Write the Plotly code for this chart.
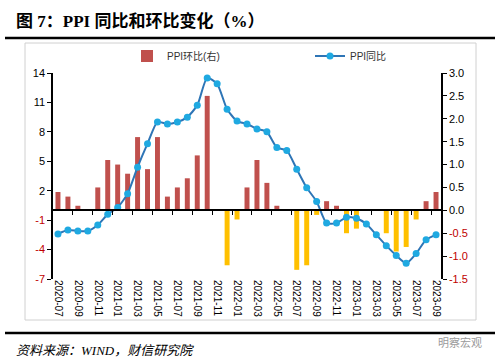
import plotly.graph_objects as go

months = ["2020-07", "2020-08", "2020-09", "2020-10", "2020-11", "2020-12",
          "2021-01", "2021-02", "2021-03", "2021-04", "2021-05", "2021-06",
          "2021-07", "2021-08", "2021-09", "2021-10", "2021-11", "2021-12",
          "2022-01", "2022-02", "2022-03", "2022-04", "2022-05", "2022-06",
          "2022-07", "2022-08", "2022-09", "2022-10", "2022-11", "2022-12",
          "2023-01", "2023-02", "2023-03", "2023-04", "2023-05", "2023-06",
          "2023-07", "2023-08", "2023-09"]

ppi_yoy = [-2.4, -2.0, -2.1, -2.1, -1.5, -0.4,
           0.3, 1.7, 4.4, 6.8, 9.0, 8.8, 9.0, 9.5, 10.7, 13.5, 12.9, 10.3,
           9.1, 8.8, 8.3, 8.0, 6.4, 6.1, 4.2, 2.3, 0.9, -1.3, -1.3, -0.7,
           -0.8, -1.4, -2.5, -3.6, -4.6, -5.4, -4.4, -3.0, -2.5]

ppi_mom = [0.4, 0.3, 0.1, 0.0, 0.5, 1.1,
           1.0, 0.8, 1.6, 0.9, 1.6, 0.3, 0.5, 0.7, 1.2, 2.5, 0.0, -1.2,
           -0.2, 0.5, 1.1, 0.6, 0.1, 0.0, -1.3, -1.2, -0.1, 0.2, 0.1, -0.5,
           -0.4, 0.0, 0.0, -0.5, -0.9, -0.8, -0.2, 0.2, 0.4]

left_ticks = [-7, -4, -1, 2, 5, 8, 11, 14]
right_ticks = [-1.5, -1.0, -0.5, 0.0, 0.5, 1.0, 1.5, 2.0, 2.5, 3.0]

RED_TXT = "#C00000"
W, H = 499, 363
ML, MR, MT, MB = 53, 58, 73, 84
PW, PH = W - ML - MR, H - MT - MB


def px(x):
    return (x - ML) / PW


def py(y):
    return (H - MB - y) / PH


def fmt_tick(v, text):
    if v < 0:
        return f"<span style='color:{RED_TXT}'>{text}</span>"
    return text


idx = list(range(len(months)))
bar_colors = ["#C0504D" if v >= 0 else "#FFC000" for v in ppi_mom]

fig = go.Figure()
fig.add_trace(go.Bar(
    x=idx, y=ppi_mom, name="PPI环比(右)",
    marker=dict(color=bar_colors, line=dict(width=0)),
    xaxis="x", yaxis="y",
))
fig.add_trace(go.Scatter(
    x=idx, y=ppi_yoy, name="PPI同比", mode="lines+markers",
    line=dict(color="#2E75B6", width=2, shape="spline", smoothing=0.6),
    marker=dict(color="#1FA9E1", size=7),
    xaxis="x", yaxis="y2",
))
# helper trace so the zero-line category axis is drawn
fig.add_trace(go.Scatter(x=[], y=[], xaxis="x2", yaxis="y", showlegend=False,
                         hoverinfo="skip"))

xr = [-0.5, len(months) - 0.5]
tick_font = dict(family="Liberation Sans, Arial, sans-serif", size=11, color="#000000")

fig.update_layout(
    width=W, height=H,
    margin=dict(l=ML, r=MR, t=MT, b=MB, autoexpand=False),
    paper_bgcolor="white", plot_bgcolor="white",
    bargap=0.5,
    showlegend=True,
    legend=dict(orientation="h", x=px(127), y=py(56), xanchor="left", yanchor="middle",
                font=dict(family="Liberation Sans, Noto Sans CJK SC, sans-serif",
                          size=10, color="#333333"),
                bgcolor="rgba(0,0,0,0)", entrywidth=138, entrywidthmode="pixels",
                traceorder="normal"),
    xaxis=dict(
        range=xr, tickmode="array",
        tickvals=idx[::2], ticktext=months[::2], tickangle=90,
        showline=False, ticks="", showgrid=False, zeroline=False,
        tickfont=dict(family="Liberation Sans, Arial, sans-serif", size=10, color="#000"),
        anchor="y", automargin=False,
    ),
    xaxis2=dict(
        range=xr, overlaying="x", anchor="free", position=1/3,
        showline=True, linecolor="#000000", linewidth=1.5,
        ticks="outside", ticklen=4, tickwidth=1, tickcolor="#000000",
        tickmode="array", tickvals=[i + 0.5 for i in idx[1:-1:2]],
        showticklabels=False, showgrid=False, zeroline=False, automargin=False,
    ),
    yaxis=dict(
        range=[-1.5, 3.0], side="right", anchor="x",
        tickmode="array", tickvals=right_ticks,
        ticktext=[fmt_tick(v, f"{v:.1f}") for v in right_ticks],
        showline=True, linecolor="#000000", linewidth=1.5,
        ticks="outside", ticklen=4, tickcolor="#000000",
        showgrid=False, zeroline=False, tickfont=tick_font, automargin=False,
    ),
    yaxis2=dict(
        range=[-7, 14], side="left", overlaying="y", anchor="x",
        tickmode="array", tickvals=left_ticks,
        ticktext=[fmt_tick(v, str(v)) for v in left_ticks],
        showline=True, linecolor="#000000", linewidth=1.5,
        ticks="outside", ticklen=4, tickcolor="#000000",
        showgrid=False, zeroline=False, tickfont=tick_font, automargin=False,
    ),
)

shapes = [
    dict(type="line", xref="paper", yref="paper", x0=px(5), x1=px(495), y0=py(38), y1=py(38),
         line=dict(color="#000000", width=2.5)),
    dict(type="rect", xref="paper", yref="paper", x0=px(25), x1=px(476), y0=py(320), y1=py(43),
         line=dict(color="#D0D0D0", width=1), layer="below"),
    dict(type="line", xref="paper", yref="paper", x0=px(5), x1=px(495), y0=py(333), y1=py(333),
         line=dict(color="#000000", width=2.5)),
]
fig.update_layout(shapes=shapes)

fig.add_annotation(
    text="<b>图 7：PPI 同比和环比变化（%）</b>",
    xref="paper", yref="paper", x=px(14), y=py(21), xanchor="left", yanchor="middle",
    showarrow=False,
    font=dict(family="Liberation Serif, Noto Sans CJK SC, serif", size=17, color="#000000"),
)
fig.add_annotation(
    text="<i>资料来源：WIND，财信研究院</i>",
    xref="paper", yref="paper", x=px(14), y=py(350), xanchor="left", yanchor="middle",
    showarrow=False,
    font=dict(family="Liberation Serif, Noto Sans CJK SC, serif", size=13, color="#000000"),
)
fig.add_annotation(
    text="明察宏观",
    xref="paper", yref="paper", x=px(484), y=py(342), xanchor="right", yanchor="middle",
    showarrow=False,
    font=dict(family="Noto Sans CJK SC, sans-serif", size=11, color="#9A9A9A"),
)

fig.write_html("out.html",
               config={"displayModeBar": False},
               post_script="document.body.style.margin='0';document.body.style.overflow='hidden';")
